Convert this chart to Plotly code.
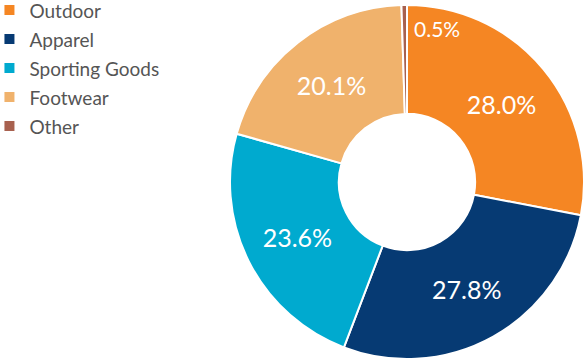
import math
import plotly.graph_objects as go

categories = ["Outdoor", "Apparel", "Sporting Goods", "Footwear", "Other"]
shares = [28.0, 27.8, 23.6, 20.1, 0.5]
colors = ["#F58623", "#063A73", "#00AACF", "#F0B26C", "#A8614F"]

W, H = 586, 361
# pie placement (pixels)
cx, cy, R = 407, 182, 177
dom_x = [max(0, (cx - R) / W), min(1, (cx + R) / W)]
dom_y = [max(0, (H - cy - R) / H), min(1, (H - cy + R) / H)]

FONT = "Lato, 'Source Sans Pro', 'Noto Sans', sans-serif"

# show tiny slice label separately (as in reference)
texts = ["%.1f%%" % v if v >= 2 else "" for v in shares]

fig = go.Figure(go.Pie(
    labels=["<span style='font-size:19px'>%s</span>" % c for c in categories],
    values=shares,
    text=texts,
    textinfo="text",
    hoverinfo="label+percent",
    sort=False,
    direction="clockwise",
    rotation=0,
    hole=0.385,
    marker=dict(colors=colors, line=dict(color="white", width=2)),
    textposition="inside",
    insidetextorientation="horizontal",
    insidetextfont=dict(color="white", size=25, family=FONT),
    domain=dict(x=dom_x, y=dom_y),
))

# label for the small slice, placed just clockwise of its boundary
total = sum(shares)
small_idx = len(shares) - 1
start_frac = sum(shares[:small_idx]) / total
end_angle = 2 * math.pi * (start_frac + shares[small_idx] / total)
r_lab = 0.87 * R
lx = cx + r_lab * math.sin(end_angle) + 5
ly = cy - r_lab * math.cos(end_angle)
fig.add_annotation(
    x=lx / W, y=(H - ly) / H, xref="paper", yref="paper",
    text="%.1f%%" % shares[small_idx], showarrow=False,
    xanchor="left", yanchor="middle",
    font=dict(color="white", size=21, family=FONT),
)

fig.update_layout(
    width=W, height=H,
    margin=dict(l=0, r=0, t=0, b=0, autoexpand=False),
    paper_bgcolor="white", plot_bgcolor="white",
    font=dict(family=FONT, color="#555555"),
    legend=dict(x=-0.018, y=1.026, xanchor="left", yanchor="top",
                font=dict(size=20, color="#555555", family=FONT),
                bgcolor="rgba(0,0,0,0)", itemwidth=30,
                tracegroupgap=0),
    showlegend=True,
)

fig.write_html("out.html", config={"displayModeBar": False},
               post_script="document.body.style.margin='0';")
